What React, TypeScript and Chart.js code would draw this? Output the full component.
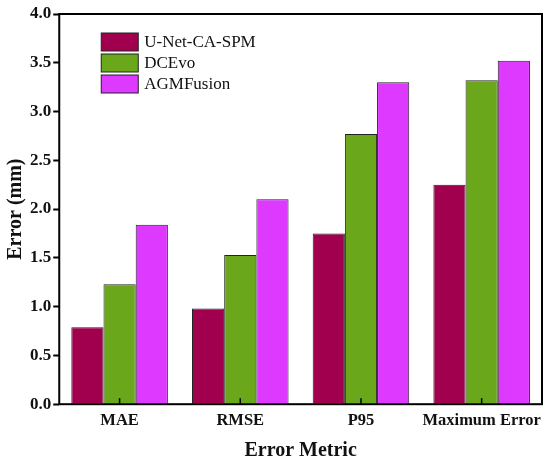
import React, { useEffect, useRef } from 'react'
import Chart from 'chart.js/auto'

const categories = ['MAE', 'RMSE', 'P95', 'Maximum Error']
const seriesNames = ['U-Net-CA-SPM', 'DCEvo', 'AGMFusion']
const unetValues = [0.79, 0.98, 1.75, 2.25]
const dcevoValues = [1.23, 1.53, 2.77, 3.32]
const agmValues = [1.84, 2.1, 3.3, 3.52]
const seriesColors = ['#A1004F', '#6BA71A', '#DE3AFF']

const FONT = "'Liberation Serif', 'Times New Roman', serif"

// box around the plot, inward x ticks and the stacked legend
const framePlugin = {
  id: 'frame',
  afterDraw(chart: any) {
    const { ctx, chartArea } = chart
    const { left, right, top, bottom } = chartArea
    ctx.save()
    ctx.strokeStyle = '#000'
    ctx.lineWidth = 2
    ctx.strokeRect(left, top, right - left, bottom - top)

    const x = chart.scales.x
    ctx.lineWidth = 1.5
    categories.forEach((_, i) => {
      const px = x.getPixelForValue(i)
      ctx.beginPath()
      ctx.moveTo(px, bottom)
      ctx.lineTo(px, bottom - 6)
      ctx.stroke()
    })

    ctx.font = `17px ${FONT}`
    ctx.textBaseline = 'middle'
    chart.data.datasets.forEach((ds: any, i: number) => {
      const bx = left + 42
      const by = top + 19 + i * 21
      ctx.fillStyle = ds.backgroundColor
      ctx.fillRect(bx, by, 37, 18)
      ctx.lineWidth = 1
      ctx.strokeStyle = '#222'
      ctx.strokeRect(bx, by, 37, 18)
      ctx.fillStyle = '#111'
      ctx.fillText(ds.label, bx + 43, by + 10)
    })
    ctx.restore()
  },
}

export default function App() {
  const canvasRef = useRef<HTMLCanvasElement>(null)
  const chartRef = useRef<Chart | null>(null)

  useEffect(() => {
    document.body.style.margin = '0'
    if (!canvasRef.current) return
    if (chartRef.current) chartRef.current.destroy()

    const values = [unetValues, dcevoValues, agmValues]

    chartRef.current = new Chart(canvasRef.current, {
      type: 'bar',
      data: {
        labels: categories,
        datasets: seriesNames.map((name, i) => ({
          label: name,
          data: values[i],
          backgroundColor: seriesColors[i],
          borderColor: '#222',
          borderWidth: 1,
          categoryPercentage: 0.8,
          barPercentage: 1.0,
        })),
      },
      options: {
        responsive: false,
        animation: false,
        layout: { padding: { top: 14, right: 8, left: 0, bottom: 0 } },
        plugins: {
          legend: { display: false },
          tooltip: { enabled: false },
        },
        scales: {
          x: {
            grid: { display: false, drawTicks: false },
            border: { display: false },
            ticks: {
              color: '#111',
              padding: 7,
              autoSkip: false,
              minRotation: 0,
              maxRotation: 0,
              font: { family: FONT, size: 16.5, weight: 'bold' },
            },
            title: {
              display: true,
              text: 'Error Metric',
              color: '#111',
              padding: { top: 1, bottom: 0 },
              font: { family: FONT, size: 20, weight: 'bold' },
            },
          },
          y: {
            min: 0,
            max: 4,
            grid: {
              drawOnChartArea: false,
              drawTicks: true,
              tickLength: 6,
              tickWidth: 2,
              tickColor: '#000',
            },
            border: { display: false },
            ticks: {
              stepSize: 0.5,
              color: '#111',
              padding: 2,
              font: { family: FONT, size: 17, weight: 'bold' },
              callback: (v: any) => Number(v).toFixed(1),
            },
            title: {
              display: true,
              text: 'Error (mm)',
              color: '#111',
              padding: { top: 4, bottom: 0 },
              font: { family: FONT, size: 20, weight: 'bold' },
            },
          },
        },
      },
      plugins: [framePlugin],
    })

    return () => {
      if (chartRef.current) chartRef.current.destroy()
    }
  }, [])

  return (
    <div style={{ width: 550, height: 463, background: '#fff' }}>
      <canvas ref={canvasRef} width={550} height={463}></canvas>
    </div>
  )
}
